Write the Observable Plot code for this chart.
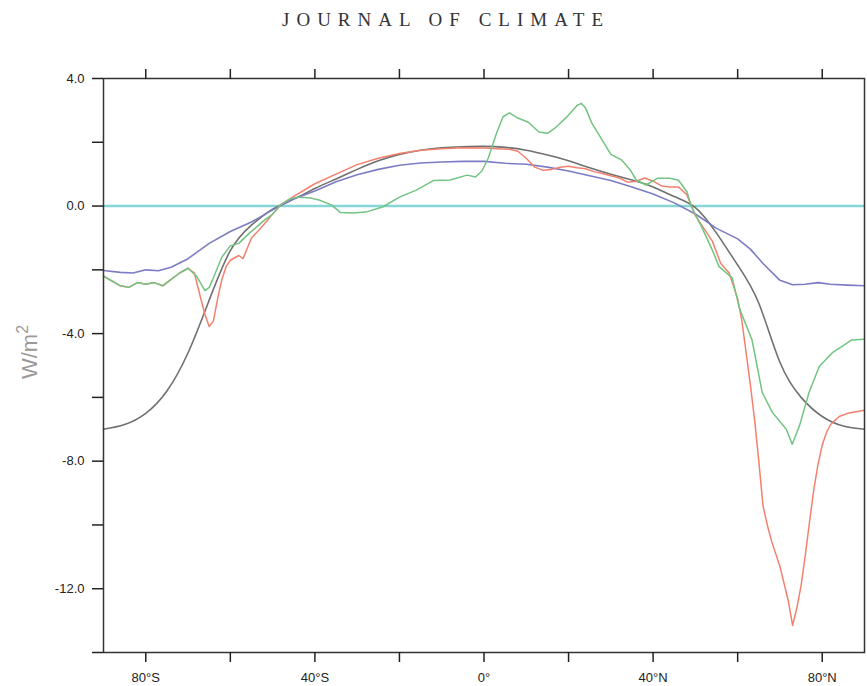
<!DOCTYPE html>
<html><head><meta charset="utf-8">
<script src="https://cdn.jsdelivr.net/npm/d3@7"></script>
<script src="https://cdn.jsdelivr.net/npm/@observablehq/plot@0.6"></script>
<style>
body{margin:0;background:#fff;}
#title{width:842px;padding-left:25px;height:40px;line-height:40px;text-align:center;font-family:"Liberation Serif","DejaVu Serif",serif;font-size:19px;letter-spacing:7px;color:#333;}
</style></head><body>
<div id="title">JOURNAL OF CLIMATE</div>
<div id="chart"></div>
<script>
// Tick values
const latTicks = [-80, -60, -40, -20, 0, 20, 40, 60, 80];
const valTicks = [-14, -12, -10, -8, -6, -4, -2, 0, 2, 4];

// Black (smooth reference) curve
const blackLat = [-90,-85,-80,-75,-70,-65,-60,-55,-50,-45,-40,-35,-30,-25,-20,-15,-10,-5,0,5,10,15,20,25,30,35,40,45,50,55,60,65,70,75,80,85,90];
const blackVal = [-7.0,-6.85,-6.5,-5.8,-4.6,-2.95,-1.4,-0.6,-0.1,0.22,0.55,0.85,1.15,1.42,1.62,1.75,1.83,1.86,1.87,1.84,1.75,1.6,1.42,1.2,1.0,0.82,0.6,0.3,-0.05,-0.85,-1.85,-3.05,-4.9,-6.0,-6.6,-6.9,-7.0];

// Blue curve
const blueLat = [-90,-86,-83,-80,-77,-74,-70,-65,-60,-55,-50,-45,-40,-35,-30,-25,-20,-15,-10,-5,0,5,10,15,20,25,30,35,40,45,50,55,60,63,66,70,73,76,79,82,86,90];
const blueVal = [-2.02,-2.08,-2.1,-2.0,-2.03,-1.92,-1.65,-1.17,-0.8,-0.5,-0.12,0.22,0.47,0.76,0.98,1.15,1.28,1.35,1.38,1.4,1.4,1.34,1.31,1.22,1.1,0.95,0.8,0.6,0.38,0.1,-0.25,-0.7,-1.03,-1.35,-1.8,-2.33,-2.47,-2.45,-2.4,-2.45,-2.48,-2.5];

// Red curve
const redLat = [-90,-88,-86,-84,-82,-80,-78,-76,-74,-72,-70,-68.5,-67,-66,-65,-64,-63,-62,-61,-60,-58,-57,-55,-52.5,-50,-48,-45,-40,-35,-30,-25,-20,-15,-10,-5,0,3,6,8,10,12,14,16,18,20,22,24,26,28,30,32,34,36,38,40,42,44,46,48,50,52,54,56,58,60,61,62,63,64,65,66,67,68,70,72,73,74,75,76,77,78,79,80,81,82,84,86,88,90];
const redVal = [-2.2,-2.35,-2.5,-2.55,-2.4,-2.45,-2.4,-2.5,-2.3,-2.1,-1.95,-2.1,-2.9,-3.4,-3.78,-3.6,-2.9,-2.3,-1.9,-1.7,-1.55,-1.65,-1.0,-0.65,-0.25,0.05,0.3,0.7,1.0,1.3,1.5,1.65,1.75,1.8,1.83,1.82,1.8,1.78,1.72,1.5,1.22,1.12,1.15,1.22,1.25,1.2,1.17,1.08,1.02,0.95,0.88,0.75,0.78,0.88,0.78,0.63,0.6,0.6,0.35,-0.3,-0.7,-1.1,-1.8,-2.1,-2.9,-3.6,-4.6,-5.6,-6.7,-8.0,-9.4,-10.0,-10.5,-11.3,-12.4,-13.15,-12.6,-11.9,-10.95,-9.9,-8.9,-8.1,-7.5,-7.1,-6.85,-6.6,-6.5,-6.45,-6.4];

// Green curve
const greenLat = [-90,-88,-86,-84,-82,-80,-78,-76,-74,-72,-70,-68,-66,-65,-64,-62,-60,-58,-55.5,-52,-50,-48,-46,-44,-41,-39,-36,-34,-31,-28,-24,-20,-16,-12,-8,-4,-2,-0.5,1,3,4.5,6,8,10.5,13,15,17,19.5,22,23,24,25.5,28,30,32.5,34.5,36,38.3,41,44,46,48,49,51.5,54,55.6,58.7,60.4,63.4,65.8,68.2,71.5,72.9,74.6,76.9,79.3,82.4,84.7,87,90];
const greenVal = [-2.2,-2.35,-2.5,-2.55,-2.4,-2.45,-2.4,-2.5,-2.3,-2.1,-1.95,-2.2,-2.65,-2.55,-2.25,-1.6,-1.25,-1.17,-0.85,-0.45,-0.25,0.05,0.22,0.28,0.25,0.19,0.03,-0.2,-0.22,-0.19,-0.03,0.28,0.5,0.8,0.82,0.97,0.91,1.1,1.5,2.3,2.8,2.92,2.76,2.63,2.32,2.28,2.47,2.78,3.15,3.22,3.08,2.6,2.06,1.62,1.45,1.15,0.82,0.66,0.87,0.87,0.81,0.45,0.0,-0.66,-1.38,-1.9,-2.25,-3.2,-4.2,-5.84,-6.47,-7.0,-7.47,-6.9,-5.84,-5.03,-4.6,-4.4,-4.2,-4.18];

const toRows = (lat, val) => lat.map((l, i) => ({lat: l, v: val[i]}));
const fmtLat = d => d === 0 ? "0°" : `${Math.abs(d)}°${d < 0 ? "S" : "N"}`;

const plot = Plot.plot({
  width: 867, height: 646,
  marginTop: 38, marginBottom: 34, marginLeft: 103, marginRight: 3,
  x: {domain: [-90, 90]},
  y: {domain: [-14, 4]},
  style: {fontFamily: "'Liberation Sans', Arial, sans-serif", fontSize: "13px", color: "#222", background: "white"},
  marks: [
    Plot.ruleY([0], {stroke: "#86d6d8", strokeWidth: 2.5}),
    Plot.line(toRows(blackLat, blackVal), {x: "lat", y: "v", stroke: "#707070", strokeWidth: 1.6, curve: "natural"}),
    Plot.line(toRows(blueLat, blueVal), {x: "lat", y: "v", stroke: "#7c7cc6", strokeWidth: 1.6}),
    Plot.line(toRows(redLat, redVal), {x: "lat", y: "v", stroke: "#f2806e", strokeWidth: 1.5}),
    Plot.line(toRows(greenLat, greenVal), {x: "lat", y: "v", stroke: "#72c482", strokeWidth: 1.5}),
    Plot.frame({stroke: "#333", strokeWidth: 1.5}),
    Plot.axisX(latTicks, {anchor: "bottom", tickSize: 10, tickPadding: 10, strokeWidth: 1.5, tickFormat: d => d % 40 === 0 ? fmtLat(d) : "", label: null}),
    Plot.axisX(latTicks, {anchor: "top", tickSize: 10, strokeWidth: 1.5, tickFormat: () => "", label: null}),
    Plot.axisY(valTicks, {anchor: "left", tickSize: 11, tickPadding: 8, strokeWidth: 1.5, tickFormat: d => d % 4 === 0 ? d.toFixed(1) : "", label: null})
  ]
});

const svg = d3.select(plot);
const t = svg.append("text")
  .attr("transform", "translate(37,312) rotate(-90)")
  .attr("text-anchor", "middle")
  .attr("font-family", "'Liberation Sans', Arial, sans-serif")
  .attr("font-size", 22)
  .attr("fill", "#9a9a9a");
t.append("tspan").text("W/m");
t.append("tspan").attr("dy", -9).attr("font-size", 16).text("2");

document.getElementById("chart").appendChild(plot);
</script>
</body></html>
